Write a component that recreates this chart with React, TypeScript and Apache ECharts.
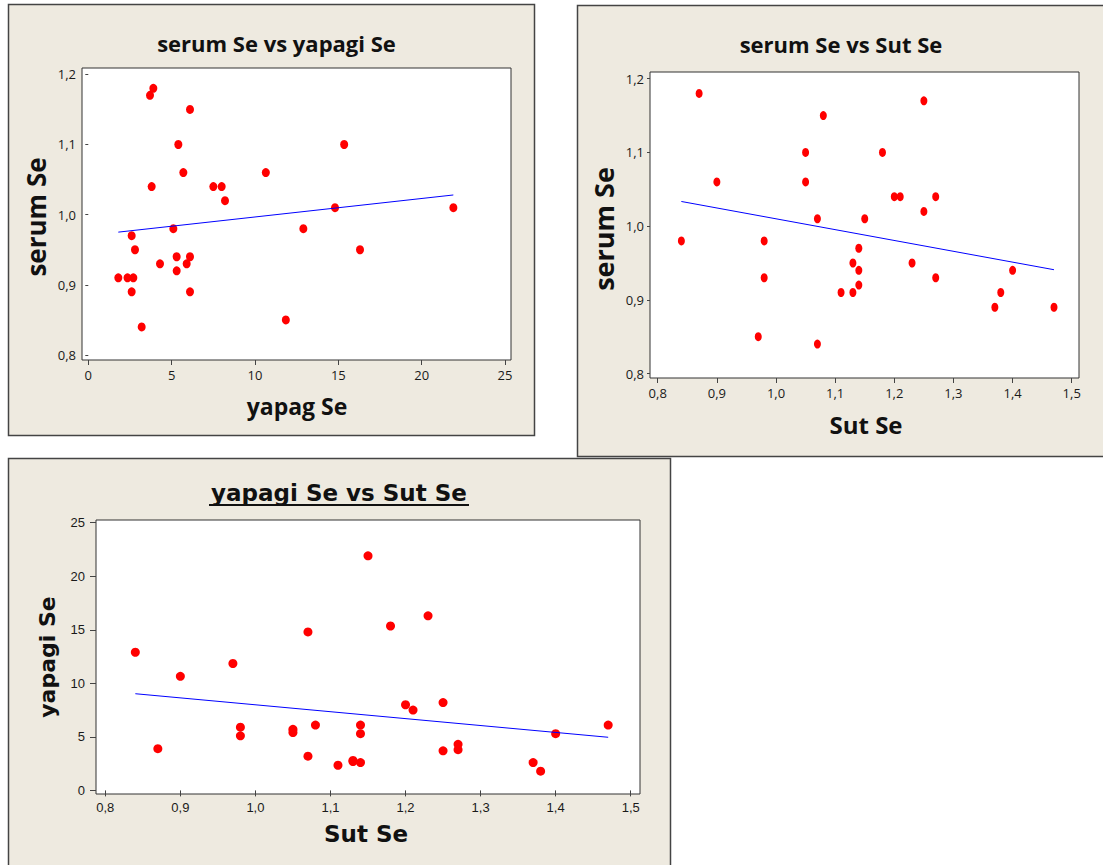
import React, { useEffect, useRef } from "react";
import * as echarts from "echarts";

// Se measurements, one entry per animal
const sutSe = [
  0.84, 0.87, 0.9, 0.97, 0.98, 0.98, 1.05, 1.05, 1.07, 1.07, 1.08, 1.11, 1.13, 1.13, 1.14,
  1.14, 1.14, 1.15, 1.18, 1.2, 1.21, 1.23, 1.25, 1.25, 1.27, 1.27, 1.37, 1.38, 1.4, 1.47,
];
const serumSe = [
  0.98, 1.18, 1.06, 0.85, 0.98, 0.93, 1.1, 1.06, 1.01, 0.84, 1.15, 0.91, 0.95, 0.91, 0.97,
  0.94, 0.92, 1.01, 1.1, 1.04, 1.04, 0.95, 1.17, 1.02, 1.04, 0.93, 0.89, 0.91, 0.94, 0.89,
];
const yapagiSe = [
  12.9, 3.9, 10.65, 11.85, 5.1, 5.9, 5.4, 5.7, 14.8, 3.2, 6.1, 2.35, 2.8, 2.7, 2.6,
  6.1, 5.3, 21.9, 15.35, 8.0, 7.5, 16.3, 3.7, 8.2, 3.8, 4.3, 2.6, 1.8, 5.3, 6.1,
];

// tick values
const yapagTicks = [0, 5, 10, 15, 20, 25];
const serumTicks = [0.8, 0.9, 1.0, 1.1, 1.2];
const sutTicks = [0.8, 0.9, 1.0, 1.1, 1.2, 1.3, 1.4, 1.5];

const BG = "#EEEAE0";
const FRAME = "#444";
const SANS = '"Open Sans", "Noto Sans", sans-serif';
const VERD = '"DejaVu Sans", Verdana, sans-serif';
const NARROW = '"Liberation Sans", Arial, sans-serif';

const comma1 = (v: number) => v.toFixed(1).replace(".", ",");
const plain = (v: number) => String(Math.round(v));

// least-squares fit line over the x range of the data
function fitLine(xs: number[], ys: number[]) {
  const n = xs.length;
  const mx = xs.reduce((a, b) => a + b, 0) / n;
  const my = ys.reduce((a, b) => a + b, 0) / n;
  let sxy = 0;
  let sxx = 0;
  for (let i = 0; i < n; i++) {
    sxy += (xs[i] - mx) * (ys[i] - my);
    sxx += (xs[i] - mx) * (xs[i] - mx);
  }
  const b = sxy / sxx;
  const a = my - b * mx;
  const x0 = Math.min(...xs);
  const x1 = Math.max(...xs);
  return [
    [x0, a + b * x0],
    [x1, a + b * x1],
  ];
}

const zip = (xs: number[], ys: number[]) => xs.map((x, i) => [x, ys[i]]);

function axis(
  dim: "x" | "y",
  gridIndex: number,
  min: number,
  max: number,
  ticks: number[],
  fmt: (v: number) => string,
  tickLen: number,
  margin: number,
  font: string,
  fontSize: number
) {
  return {
    type: "value",
    gridIndex,
    min,
    max,
    position: dim === "x" ? "bottom" : "left",
    splitLine: { show: false },
    axisLine: { show: false },
    axisTick: {
      show: true,
      length: tickLen,
      customValues: ticks,
      lineStyle: { color: "#444", width: 1 },
    },
    axisLabel: {
      customValues: ticks,
      formatter: fmt,
      margin,
      color: "#1a1a1a",
      fontFamily: font,
      fontSize,
    },
  };
}

function text(
  str: string,
  x: number,
  y: number,
  size: number,
  family: string,
  rotation = 0
) {
  return {
    type: "text",
    x,
    y,
    rotation,
    z: 10,
    style: {
      text: str,
      fontSize: size,
      fontFamily: family,
      fontWeight: "bold",
      fill: "#111",
      align: "center",
      verticalAlign: "middle",
    },
  };
}

export default function App() {
  const ref = useRef<HTMLDivElement>(null);

  useEffect(() => {
    if (!ref.current) return;
    const chart = echarts.init(ref.current, null, { renderer: "svg" });

    const gridStyle = {
      show: true,
      backgroundColor: "#fff",
      borderColor: "#333",
      borderWidth: 1,
      containLabel: false,
    };

    const dot = (w: number, h: number) => ({
      symbol: "circle",
      symbolSize: [w, h],
      itemStyle: { color: "#ff0000", opacity: 1 },
    });
    const fitStyle = {
      type: "line",
      showSymbol: false,
      silent: true,
      lineStyle: { color: "#0000ff", width: 1 },
      z: 3,
    };

    chart.setOption({
      animation: false,
      backgroundColor: "#ffffff",
      grid: [
        { ...gridStyle, left: 82, top: 68, width: 429, height: 292 },
        { ...gridStyle, left: 650, top: 72, width: 429, height: 306 },
        { ...gridStyle, left: 96, top: 520, width: 544, height: 274 },
      ],
      xAxis: [
        axis("x", 0, -0.378, 25.36, yapagTicks, plain, 5, 8, SANS, 13),
        axis("x", 1, 0.787, 1.5123, sutTicks, comma1, 5, 8, SANS, 13),
        axis("x", 2, 0.7876, 1.5124, sutTicks, comma1, 6, 7, NARROW, 13),
      ],
      yAxis: [
        axis("y", 0, 0.7929, 1.209, serumTicks, comma1, 3, 6, SANS, 13),
        axis("y", 1, 0.794, 1.2091, serumTicks, comma1, 3, 6, SANS, 13),
        axis("y", 2, -0.336, 25.25, yapagTicks, plain, 6, 11, NARROW, 13),
      ],
      series: [
        {
          type: "scatter",
          xAxisIndex: 0,
          yAxisIndex: 0,
          data: zip(yapagiSe, serumSe),
          ...dot(8, 9),
        },
        { ...fitStyle, xAxisIndex: 0, yAxisIndex: 0, data: fitLine(yapagiSe, serumSe) },
        {
          type: "scatter",
          xAxisIndex: 1,
          yAxisIndex: 1,
          data: zip(sutSe, serumSe),
          ...dot(7, 9),
        },
        { ...fitStyle, xAxisIndex: 1, yAxisIndex: 1, data: fitLine(sutSe, serumSe) },
        {
          type: "scatter",
          xAxisIndex: 2,
          yAxisIndex: 2,
          data: zip(sutSe, yapagiSe),
          ...dot(9, 9),
        },
        { ...fitStyle, xAxisIndex: 2, yAxisIndex: 2, data: fitLine(sutSe, yapagiSe) },
      ],
      graphic: [
        // panel frames
        {
          type: "rect",
          z: -10,
          shape: { x: 8.5, y: 4.5, width: 526, height: 431 },
          style: { fill: BG, stroke: FRAME, lineWidth: 1.5 },
        },
        {
          type: "rect",
          z: -10,
          shape: { x: 577.5, y: 5.5, width: 540, height: 451 },
          style: { fill: BG, stroke: FRAME, lineWidth: 1.5 },
        },
        {
          type: "rect",
          z: -10,
          shape: { x: 8.5, y: 458.5, width: 662, height: 420 },
          style: { fill: BG, stroke: FRAME, lineWidth: 1.5 },
        },
        // panel 1 texts
        text("serum Se vs yapagi Se", 276.5, 43, 22, SANS),
        text("serum Se", 36, 217, 26, SANS, Math.PI / 2),
        text("yapag Se", 297, 406, 23, SANS),
        // panel 2 texts
        text("serum Se vs Sut Se", 841, 44, 22, SANS),
        text("serum Se", 603, 229, 27, SANS, Math.PI / 2),
        text("Sut Se", 866, 424, 24, SANS),
        // panel 3 texts
        text("yapagi Se vs Sut Se", 339, 493, 23, VERD),
        {
          type: "line",
          z: 10,
          shape: { x1: 209, y1: 505, x2: 469, y2: 505 },
          style: { stroke: "#111", lineWidth: 2 },
        },
        text("yapagi Se", 47, 657, 22, VERD, Math.PI / 2),
        text("Sut Se", 366, 834, 23, VERD),
      ],
    });

    return () => chart.dispose();
  }, []);

  return (
    <div
      ref={ref}
      style={{ position: "absolute", left: 0, top: 0, width: 1103, height: 865 }}
    />
  );
}
